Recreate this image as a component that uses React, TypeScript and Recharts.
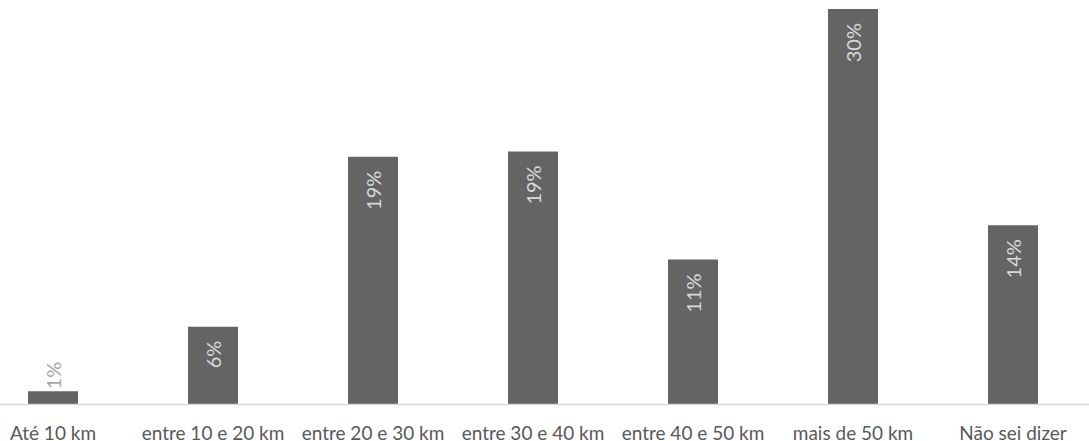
import { BarChart, Bar, XAxis, YAxis, LabelList } from 'recharts'

const categories = [
  'Até 10 km',
  'entre 10 e 20 km',
  'entre 20 e 30 km',
  'entre 30 e 40 km',
  'entre 40 e 50 km',
  'mais de 50 km',
  'Não sei dizer'
]
const shares = [1.0, 5.9, 18.8, 19.2, 11.0, 30.0, 13.6]

const data = categories.map((name, i) => ({ name, value: shares[i] }))

const FONT = 'Lato, "Open Sans", sans-serif'

const BarLabel = (props: any) => {
  const { x, y, width, height, value } = props
  const cx = x + width / 2
  const text = `${Math.round(value)}%`
  if (height < 40) {
    return (
      <text
        x={cx}
        y={y - 2}
        transform={`rotate(-90, ${cx}, ${y - 2})`}
        textAnchor="start"
        dominantBaseline="central"
        fill="#a6a6a6"
        fontSize={20}
        fontFamily={FONT}
      >
        {text}
      </text>
    )
  }
  return (
    <text
      x={cx}
      y={y + 14}
      transform={`rotate(-90, ${cx}, ${y + 14})`}
      textAnchor="end"
      dominantBaseline="central"
      fill="#d9d9d9"
      fontSize={20}
      fontFamily={FONT}
    >
      {text}
    </text>
  )
}

export default function App() {
  return (
    <div style={{ position: 'absolute', left: -27, top: 0 }}>
      <BarChart
        width={1120}
        height={460}
        data={data}
        margin={{ top: 9, right: 0, bottom: 5.5, left: 0 }}
        barCategoryGap={0}
      >
        <XAxis
          dataKey="name"
          height={50}
          interval={0}
          tickLine={false}
          tickSize={0}
          tickMargin={22}
          axisLine={{ stroke: '#d9d9d9', strokeWidth: 1.5 }}
          tick={{ fill: '#595959', fontSize: 19, fontFamily: FONT }}
        />
        <YAxis hide domain={[0, 30]} />
        <Bar dataKey="value" fill="#646464" barSize={50} isAnimationActive={false}>
          <LabelList dataKey="value" content={BarLabel} />
        </Bar>
      </BarChart>
    </div>
  )
}
